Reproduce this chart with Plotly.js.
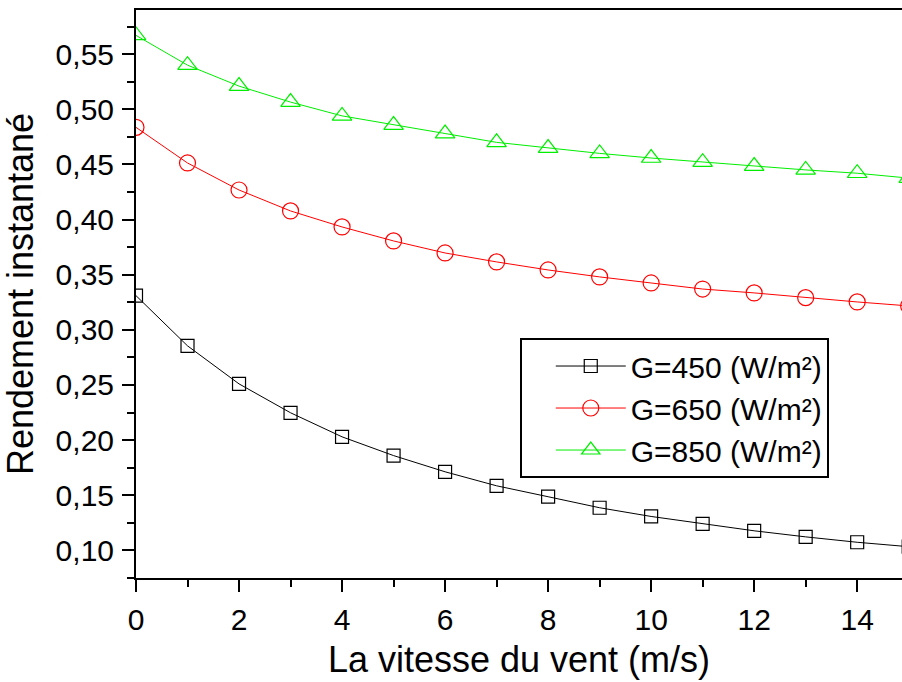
<!DOCTYPE html>
<html>
<head>
<meta charset="utf-8">
<script src="https://cdn.plot.ly/plotly-3.0.1.min.js"></script>
<style>html,body{margin:0;padding:0;background:#fff;}#chart{width:902px;height:682px;}</style>
</head>
<body>
<div id="chart"></div>
<script>
const windSpeed = [0,1,2,3,4,5,6,7,8,9,10,11,12,13,14,15];
const g450 = [0.331,0.2855,0.251,0.2248,0.203,0.186,0.1713,0.1586,0.1487,0.1387,0.1308,0.1241,0.1178,0.1123,0.1074,0.1034];
const g650 = [0.4836,0.4513,0.4268,0.4078,0.3933,0.3806,0.3697,0.3616,0.3543,0.348,0.3425,0.337,0.3335,0.3292,0.3253,0.3217];
const g850 = [0.567,0.540,0.521,0.5065,0.494,0.4857,0.478,0.470,0.4648,0.460,0.4558,0.452,0.4485,0.445,0.442,0.4376];
const seriesNames = ['G=450 (W/m²)','G=650 (W/m²)','G=850 (W/m²)'];
const xTitle = 'La vitesse du vent (m/s)';
const yTitle = 'Rendement instantané';

const font = 'Liberation Sans, Arial, sans-serif';
const traces = [
  {x: windSpeed, y: g450, name: seriesNames[0], mode: 'lines+markers',
   line: {color: '#000000', width: 1},
   marker: {symbol: 'square-open', size: 13, color: '#000000', line: {width: 1.2}}},
  {x: windSpeed, y: g650, name: seriesNames[1], mode: 'lines+markers',
   line: {color: '#ff0000', width: 1},
   marker: {symbol: 'circle-open', size: 16, color: '#ff0000', line: {width: 1.2}}},
  {x: windSpeed, y: g850, name: seriesNames[2], mode: 'lines+markers',
   line: {color: '#00ee00', width: 1},
   marker: {symbol: 'triangle-up-open', size: 17, color: '#00ee00', line: {width: 1.2}}}
];
const layout = {
  width: 902, height: 682,
  margin: {l: 136, r: 0, t: 10, b: 104},
  paper_bgcolor: '#fff', plot_bgcolor: '#fff',
  separators: ',.',
  font: {family: font, color: '#000'},
  showlegend: true,
  legend: {x: 0.501, y: 0.4225, xanchor: 'left', yanchor: 'top',
    bordercolor: '#000', borderwidth: 2, bgcolor: '#fff',
    font: {size: 30, family: font}, tracegroupgap: 0,
    itemwidth: 70, indentation: 29},
  xaxis: {range: [0, 14.87], dtick: 2, tick0: 0, showgrid: false, zeroline: false,
    showline: true, linecolor: '#000', linewidth: 2, mirror: true,
    ticks: 'outside', ticklen: 12, tickwidth: 2, tickcolor: '#000',
    minor: {dtick: 1, ticks: 'outside', ticklen: 7, tickwidth: 2, tickcolor: '#000'},
    tickfont: {size: 30}, ticklabelstandoff: 2,
    title: {text: xTitle, font: {size: 36}, standoff: 12}},
  yaxis: {range: [0.075, 0.59], dtick: 0.05, tick0: 0, tickformat: '.2f', showgrid: false, zeroline: false,
    showline: true, linecolor: '#000', linewidth: 2, mirror: true,
    ticks: 'outside', ticklen: 12, tickwidth: 2, tickcolor: '#000',
    minor: {dtick: 0.025, ticks: 'outside', ticklen: 7, tickwidth: 2, tickcolor: '#000'},
    tickfont: {size: 30}, ticklabelstandoff: 2,
    title: {text: yTitle, font: {size: 36}, standoff: 16}}
};
Plotly.newPlot('chart', traces, layout, {displayModeBar: false, staticPlot: true});
</script>
</body>
</html>
